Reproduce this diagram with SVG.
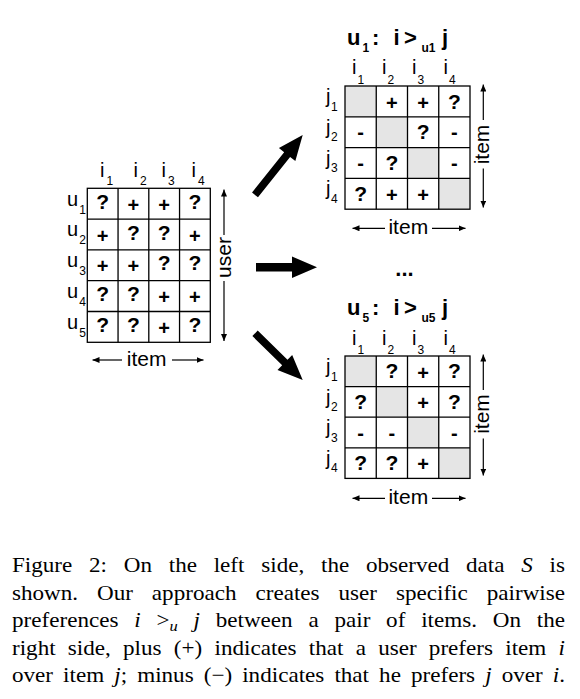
<svg xmlns="http://www.w3.org/2000/svg" width="580" height="699" viewBox="0 0 580 699">
<style>
.bg{fill:#ffffff}
.grid{fill:none;stroke:#000;stroke-width:1.3}
.gray{fill:#e5e5e5;stroke:none}
.lbl{font-family:"Liberation Sans",Arial,sans-serif;font-size:20px;fill:#000}
.sub{font-size:12px}
.cq{font-family:"Liberation Sans",Arial,sans-serif;font-weight:bold;font-size:21px;text-anchor:middle;fill:#000}
.cp{font-family:"Liberation Sans",Arial,sans-serif;font-weight:bold;font-size:20px;text-anchor:middle;fill:#000}
.title{font-family:"Liberation Sans",Arial,sans-serif;font-weight:bold;font-size:22px;fill:#000}
.tsub{font-family:"Liberation Sans",Arial,sans-serif;font-weight:bold;font-size:12px;fill:#000}
.axis{font-family:"Liberation Sans",Arial,sans-serif;font-size:21px;fill:#000;text-anchor:middle}
.axl{stroke:#000;stroke-width:1.2;fill:none;marker-end:url(#ah)}
.big{fill:#000;stroke:none}
.cap{font-family:"Liberation Serif","Times New Roman",serif;font-size:21px;fill:#000}
.it{font-style:italic}
</style>
<defs>
<marker id="ah" markerWidth="7" markerHeight="6" refX="7" refY="3" orient="auto" markerUnits="userSpaceOnUse">
<path d="M0,0 L7,3 L0,6 Z" fill="#000"/>
</marker>
</defs>
<rect class="bg" x="0" y="0" width="580" height="699"/>

<!-- Left matrix: observed data -->
<g id="matrix-left">
<rect class="grid" x="87.3" y="188.3" width="123" height="154"/>
<path class="grid" d="M118.05,188.3V342.3M148.8,188.3V342.3M179.55,188.3V342.3M87.3,219.1H210.3M87.3,249.9H210.3M87.3,280.7H210.3M87.3,311.5H210.3"/>
<text class="lbl" x="100" y="177" font-size="21">i<tspan class="sub" dx="2" dy="8">1</tspan></text>
<text class="lbl" x="133.5" y="177" font-size="21">i<tspan class="sub" dx="2" dy="8">2</tspan></text>
<text class="lbl" x="161.5" y="177" font-size="21">i<tspan class="sub" dx="2" dy="8">3</tspan></text>
<text class="lbl" x="191.5" y="177" font-size="21">i<tspan class="sub" dx="2" dy="8">4</tspan></text>
<text class="lbl" x="67" y="205.5" font-size="18">u<tspan class="sub" dx="1" dy="8">1</tspan></text>
<text class="lbl" x="67" y="236.3" font-size="18">u<tspan class="sub" dx="1" dy="8">2</tspan></text>
<text class="lbl" x="67" y="267.1" font-size="18">u<tspan class="sub" dx="1" dy="8">3</tspan></text>
<text class="lbl" x="67" y="297.9" font-size="18">u<tspan class="sub" dx="1" dy="8">4</tspan></text>
<text class="lbl" x="67" y="328.7" font-size="18">u<tspan class="sub" dx="1" dy="8">5</tspan></text>
<text class="cq" x="102.7" y="208.8">?</text><text class="cp" x="133.4" y="211.8">+</text><text class="cp" x="164.2" y="211.8">+</text><text class="cq" x="194.9" y="208.8">?</text>
<text class="cp" x="102.7" y="242.6">+</text><text class="cq" x="133.4" y="239.6">?</text><text class="cq" x="164.2" y="239.6">?</text><text class="cp" x="194.9" y="242.6">+</text>
<text class="cp" x="102.7" y="273.4">+</text><text class="cp" x="133.4" y="273.4">+</text><text class="cq" x="164.2" y="270.4">?</text><text class="cq" x="194.9" y="270.4">?</text>
<text class="cq" x="102.7" y="301.2">?</text><text class="cq" x="133.4" y="301.2">?</text><text class="cp" x="164.2" y="304.2">+</text><text class="cp" x="194.9" y="304.2">+</text>
<text class="cq" x="102.7" y="332">?</text><text class="cq" x="133.4" y="332">?</text><text class="cp" x="164.2" y="335">+</text><text class="cq" x="194.9" y="332">?</text>
<line class="axl" x1="224" y1="235" x2="224" y2="189.5"/>
<line class="axl" x1="224" y1="281" x2="224" y2="341"/>
<text class="axis" transform="translate(230.5,257.5) rotate(-90)">user</text>
<line class="axl" x1="122" y1="360" x2="92.5" y2="360"/>
<line class="axl" x1="172" y1="360" x2="203.5" y2="360"/>
<text class="axis" x="146.7" y="365.5" font-size="22">item</text>
</g>

<!-- Top-right matrix: u1 -->
<g id="matrix-u1">
<text class="title" x="347" y="45">u</text>
<text class="tsub" x="362.5" y="52">1</text>
<text class="title" x="372" y="45">:</text>
<text class="title" x="393.5" y="45">i</text>
<text class="title" x="404" y="45">&gt;</text>
<text class="tsub" x="421.5" y="52">u1</text>
<text class="title" x="442" y="45">j</text>
<rect class="gray" x="345" y="86" width="31.25" height="30.8"/>
<rect class="gray" x="376.25" y="116.8" width="31.25" height="30.8"/>
<rect class="gray" x="407.5" y="147.6" width="31.25" height="30.8"/>
<rect class="gray" x="438.75" y="178.4" width="31.25" height="30.8"/>
<rect class="grid" x="345" y="86" width="125" height="123.2"/>
<path class="grid" d="M376.25,86V209.2M407.5,86V209.2M438.75,86V209.2M345,116.8H470M345,147.6H470M345,178.4H470"/>
<text class="lbl" x="352" y="73.5">i<tspan class="sub" dx="1" dy="10">1</tspan></text>
<text class="lbl" x="382" y="73.5">i<tspan class="sub" dx="1" dy="10">2</tspan></text>
<text class="lbl" x="412" y="73.5">i<tspan class="sub" dx="1" dy="10">3</tspan></text>
<text class="lbl" x="443.5" y="73.5">i<tspan class="sub" dx="1" dy="10">4</tspan></text>
<text class="lbl" x="326" y="103">j<tspan class="sub" dx="0.5" dy="7.5">1</tspan></text>
<text class="lbl" x="326" y="133.8">j<tspan class="sub" dx="0.5" dy="7.5">2</tspan></text>
<text class="lbl" x="326" y="164.6">j<tspan class="sub" dx="0.5" dy="7.5">3</tspan></text>
<text class="lbl" x="326" y="195.4">j<tspan class="sub" dx="0.5" dy="7.5">4</tspan></text>
<text class="cp" x="391.9" y="109.5">+</text><text class="cp" x="423.1" y="109.5">+</text><text class="cq" x="454.4" y="108.5">?</text>
<text class="cp" x="360.6" y="139">-</text><text class="cq" x="423.1" y="139.3">?</text><text class="cp" x="454.4" y="139">-</text>
<text class="cp" x="360.6" y="169.8">-</text><text class="cq" x="391.9" y="170.1">?</text><text class="cp" x="454.4" y="169.8">-</text>
<text class="cq" x="360.6" y="200.9">?</text><text class="cp" x="391.9" y="201.9">+</text><text class="cp" x="423.1" y="201.9">+</text>
<line class="axl" x1="483.3" y1="120" x2="483.3" y2="84.5"/>
<line class="axl" x1="483.3" y1="168.5" x2="483.3" y2="207.5"/>
<text class="axis" font-size="20" transform="translate(488.5,144.5) rotate(-90)">item</text>
<line class="axl" x1="385" y1="228.3" x2="352.5" y2="228.3"/>
<line class="axl" x1="432" y1="228.3" x2="465.5" y2="228.3"/>
<text class="axis" x="408.3" y="233.5" font-size="22">item</text>
</g>

<text class="title" x="404.5" y="276" text-anchor="middle" font-size="20">...</text>

<!-- Bottom-right matrix: u5 -->
<g id="matrix-u5">
<text class="title" x="347" y="315">u</text>
<text class="tsub" x="362.5" y="322">5</text>
<text class="title" x="372" y="315">:</text>
<text class="title" x="393.5" y="315">i</text>
<text class="title" x="404" y="315">&gt;</text>
<text class="tsub" x="421.5" y="322">u5</text>
<text class="title" x="442" y="315">j</text>
<rect class="gray" x="345" y="356" width="31.25" height="30.6"/>
<rect class="gray" x="376.25" y="386.6" width="31.25" height="30.6"/>
<rect class="gray" x="407.5" y="417.2" width="31.25" height="30.6"/>
<rect class="gray" x="438.75" y="447.8" width="31.25" height="30.6"/>
<rect class="grid" x="345" y="356" width="125" height="122.4"/>
<path class="grid" d="M376.25,356V478.4M407.5,356V478.4M438.75,356V478.4M345,386.6H470M345,417.2H470M345,447.8H470"/>
<text class="lbl" x="352" y="345">i<tspan class="sub" dx="1" dy="8.5">1</tspan></text>
<text class="lbl" x="382" y="345">i<tspan class="sub" dx="1" dy="8.5">2</tspan></text>
<text class="lbl" x="412" y="345">i<tspan class="sub" dx="1" dy="8.5">3</tspan></text>
<text class="lbl" x="443.5" y="345">i<tspan class="sub" dx="1" dy="8.5">4</tspan></text>
<text class="lbl" x="326" y="373">j<tspan class="sub" dx="0.5" dy="7.5">1</tspan></text>
<text class="lbl" x="326" y="403.6">j<tspan class="sub" dx="0.5" dy="7.5">2</tspan></text>
<text class="lbl" x="326" y="434.2">j<tspan class="sub" dx="0.5" dy="7.5">3</tspan></text>
<text class="lbl" x="326" y="464.8">j<tspan class="sub" dx="0.5" dy="7.5">4</tspan></text>
<text class="cq" x="391.9" y="378">?</text><text class="cp" x="423.1" y="379.5">+</text><text class="cq" x="454.4" y="378">?</text>
<text class="cq" x="360.6" y="408.6">?</text><text class="cp" x="423.1" y="410.1">+</text><text class="cq" x="454.4" y="408.6">?</text>
<text class="cp" x="360.6" y="439.7">-</text><text class="cp" x="391.9" y="439.7">-</text><text class="cp" x="454.4" y="439.7">-</text>
<text class="cq" x="360.6" y="469.8">?</text><text class="cq" x="391.9" y="469.8">?</text><text class="cp" x="423.1" y="471.3">+</text>
<line class="axl" x1="483.3" y1="390" x2="483.3" y2="354.5"/>
<line class="axl" x1="483.3" y1="438.5" x2="483.3" y2="475.5"/>
<text class="axis" font-size="20" transform="translate(488.5,414) rotate(-90)">item</text>
<line class="axl" x1="385" y1="498.3" x2="352.5" y2="498.3"/>
<line class="axl" x1="432" y1="498.3" x2="465.5" y2="498.3"/>
<text class="axis" x="408.3" y="503.5" font-size="22">item</text>
</g>

<!-- Connectors: thick arrows -->
<g id="connectors">
<polygon class="big" transform="translate(302.7,135) rotate(-51.5)" points="0,0 -25,-10.5 -25,-3.8 -76.6,-3.8 -76.6,3.8 -25,3.8 -25,10.5"/>
<polygon class="big" transform="translate(317,267.3)" points="0,0 -25,-10.8 -25,-4.2 -61,-4.2 -61,4.2 -25,4.2 -25,10.8"/>
<polygon class="big" transform="translate(302.7,380) rotate(44.4)" points="0,0 -25,-10.5 -25,-3.8 -66.7,-3.8 -66.7,3.8 -25,3.8 -25,10.5"/>
</g>

<!-- Caption -->
<g id="caption">
<text class="cap" transform="translate(12,572) scale(1.1,1)" x="0" y="0" word-spacing="9.97" textLength="502.7" lengthAdjust="spacing">Figure 2: On the left side, the observed data <tspan class="it">S</tspan> is</text>
<text class="cap" transform="translate(12,599.5) scale(1.1,1)" x="0" y="0" word-spacing="11.97" textLength="502.7" lengthAdjust="spacing">shown. Our approach creates user specific pairwise</text>
<text class="cap" transform="translate(12,627) scale(1.1,1)" x="0" y="0" word-spacing="9.09" textLength="502.7" lengthAdjust="spacing">preferences <tspan class="it">i</tspan> &gt;<tspan class="it" font-size="15" dy="4">u</tspan> <tspan class="it" dy="-4">j</tspan> between a pair of items. On the</text>
<text class="cap" transform="translate(12,654.5) scale(1.1,1)" x="0" y="0" word-spacing="5.87" textLength="502.7" lengthAdjust="spacing">right side, plus (+) indicates that a user prefers item <tspan class="it">i</tspan></text>
<text class="cap" transform="translate(12,682) scale(1.1,1)" x="0" y="0" word-spacing="3.9" textLength="502.7" lengthAdjust="spacing">over item <tspan class="it">j</tspan>; minus (−) indicates that he prefers <tspan class="it">j</tspan> over <tspan class="it">i</tspan>.</text>
</g>
</svg>
